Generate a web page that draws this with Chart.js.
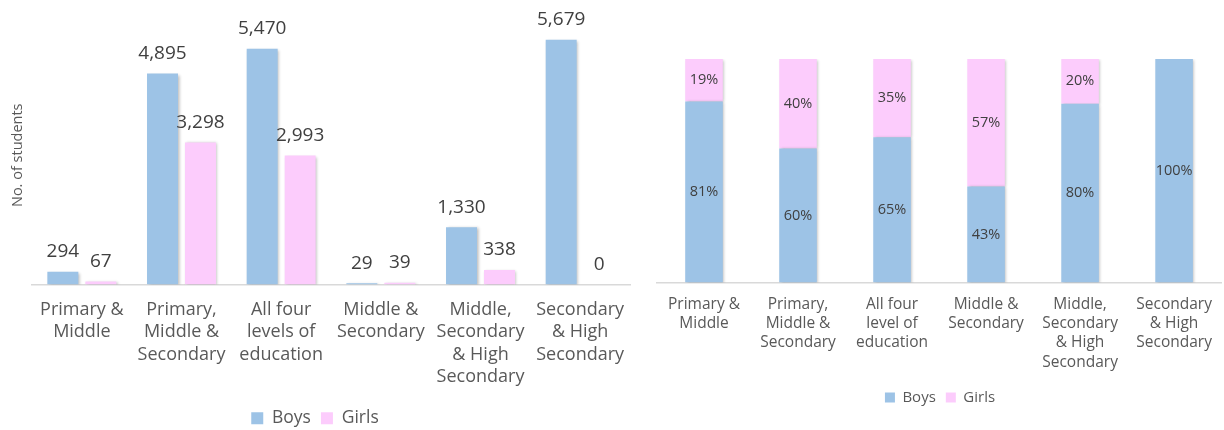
<!DOCTYPE html>
<html>
<head>
<meta charset="utf-8">
<script src="https://cdn.jsdelivr.net/npm/chart.js@4"></script>
<style>
    html, body { margin: 0; padding: 0; background: #fff; overflow: hidden; }
    .box { position: absolute; }
    #leftBox { left: 0; top: 0; width: 640px; height: 437px; }
    #rightBox { left: 640px; top: 0; width: 584px; height: 415px; }
</style>
</head>
<body>
<div class="box" id="leftBox"><canvas id="countChart"></canvas></div>
<div class="box" id="rightBox"><canvas id="shareChart"></canvas></div>
<script>
// data
const countLabels = [
    ['Primary &', 'Middle'],
    ['Primary,', 'Middle &', 'Secondary'],
    ['All four', 'levels of', 'education'],
    ['Middle &', 'Secondary'],
    ['Middle,', 'Secondary', '& High', 'Secondary'],
    ['Secondary', '& High', 'Secondary']
];
const shareLabels = [
    ['Primary &', 'Middle'],
    ['Primary,', 'Middle &', 'Secondary'],
    ['All four', 'level of', 'education'],
    ['Middle &', 'Secondary'],
    ['Middle,', 'Secondary', '& High', 'Secondary'],
    ['Secondary', '& High', 'Secondary']
];
const boysCount = [294, 4895, 5470, 29, 1330, 5679];
const girlsCount = [67, 3298, 2993, 39, 338, 0];
const boysShare = [81, 60, 65, 43, 80, 100];
const girlsShare = [19, 40, 35, 57, 20, 0];

const BLUE = '#9dc3e6';
const PINK = '#fcccfc';
const FONT = "'Open Sans', sans-serif";

// soft shadow under the bars, like the office chart
const barShadow = {
    id: 'barShadow',
    beforeDatasetsDraw(chart) {
        const ctx = chart.ctx;
        ctx.save();
        ctx.shadowColor = 'rgba(0,0,0,0.28)';
        ctx.shadowBlur = 3;
        ctx.shadowOffsetX = 1.5;
        ctx.shadowOffsetY = 1;
    },
    afterDatasetsDraw(chart) {
        chart.ctx.restore();
    }
};

// value labels drawn at the bar elements
const valueLabels = {
    id: 'valueLabels',
    afterDatasetsDraw(chart, args, opts) {
        const ctx = chart.ctx;
        ctx.save();
        ctx.font = opts.size + 'px ' + FONT;
        ctx.fillStyle = opts.color;
        ctx.textAlign = 'center';
        ctx.textBaseline = 'middle';
        chart.data.datasets.forEach((ds, di) => {
            const meta = chart.getDatasetMeta(di);
            meta.data.forEach((bar, i) => {
                const v = ds.data[i];
                if (opts.inside) {
                    if (!v) return;
                    ctx.fillText(v + '%', bar.x, (bar.y + bar.base) / 2);
                } else {
                    ctx.fillText(v.toLocaleString('en-US'), bar.x, bar.y - opts.offset);
                }
            });
        });
        ctx.restore();
    }
};

new Chart(document.getElementById('countChart'), {
    type: 'bar',
    data: {
        labels: countLabels,
        datasets: [
            { label: 'Boys', data: boysCount, backgroundColor: BLUE },
            { label: 'Girls', data: girlsCount, backgroundColor: PINK }
        ]
    },
    options: {
        responsive: true,
        maintainAspectRatio: false,
        animation: false,
        layout: { padding: { top: 26, right: 10, left: 0, bottom: 0 } },
        datasets: { bar: { categoryPercentage: 0.762, barPercentage: 0.816 } },
        scales: {
            x: {
                grid: { display: false, drawTicks: false },
                border: { display: true, color: '#d9d9d9', width: 1.5 },
                ticks: {
                    autoSkip: false, maxRotation: 0, padding: 14,
                    color: '#595959',
                    font: { family: FONT, size: 18, lineHeight: 1.25 }
                },
                afterFit(scale) { scale.height = 115; }
            },
            y: {
                min: 0, max: 6000,
                grid: { display: false, drawTicks: false },
                border: { display: false },
                ticks: { display: false },
                title: {
                    display: true, text: 'No. of students', color: '#595959',
                    font: { family: FONT, size: 14.5 }, padding: { top: 9, bottom: 0 }
                },
                afterFit(scale) { scale.width = 32; }
            }
        },
        plugins: {
            legend: {
                position: 'bottom',
                labels: {
                    color: '#595959', boxWidth: 12, boxHeight: 12, padding: 10,
                    font: { family: FONT, size: 17.5 }
                }
            },
            tooltip: { enabled: false },
            valueLabels: { size: 19, color: '#404040', offset: 20 }
        }
    },
    plugins: [barShadow, valueLabels]
});

new Chart(document.getElementById('shareChart'), {
    type: 'bar',
    data: {
        labels: shareLabels,
        datasets: [
            { label: 'Boys', data: boysShare, backgroundColor: BLUE },
            { label: 'Girls', data: girlsShare, backgroundColor: PINK }
        ]
    },
    options: {
        responsive: true,
        maintainAspectRatio: false,
        animation: false,
        layout: { padding: { top: 59, right: 1, left: 17, bottom: 0 } },
        datasets: { bar: { categoryPercentage: 0.8, barPercentage: 0.5 } },
        scales: {
            x: {
                stacked: true,
                grid: { display: false, drawTicks: false },
                border: { display: true, color: '#d9d9d9', width: 1.5 },
                ticks: {
                    autoSkip: false, maxRotation: 0, padding: 12,
                    color: '#595959',
                    font: { family: FONT, size: 15.5, lineHeight: 1.25 }
                },
                afterFit(scale) { scale.height = 97.5; }
            },
            y: {
                stacked: true, display: false, min: 0, max: 100
            }
        },
        plugins: {
            legend: {
                position: 'bottom',
                labels: {
                    color: '#595959', boxWidth: 10, boxHeight: 10, padding: 10,
                    font: { family: FONT, size: 15 }
                }
            },
            tooltip: { enabled: false },
            valueLabels: { size: 14.5, color: '#404040', inside: true }
        }
    },
    plugins: [barShadow, valueLabels]
});
</script>
</body>
</html>
